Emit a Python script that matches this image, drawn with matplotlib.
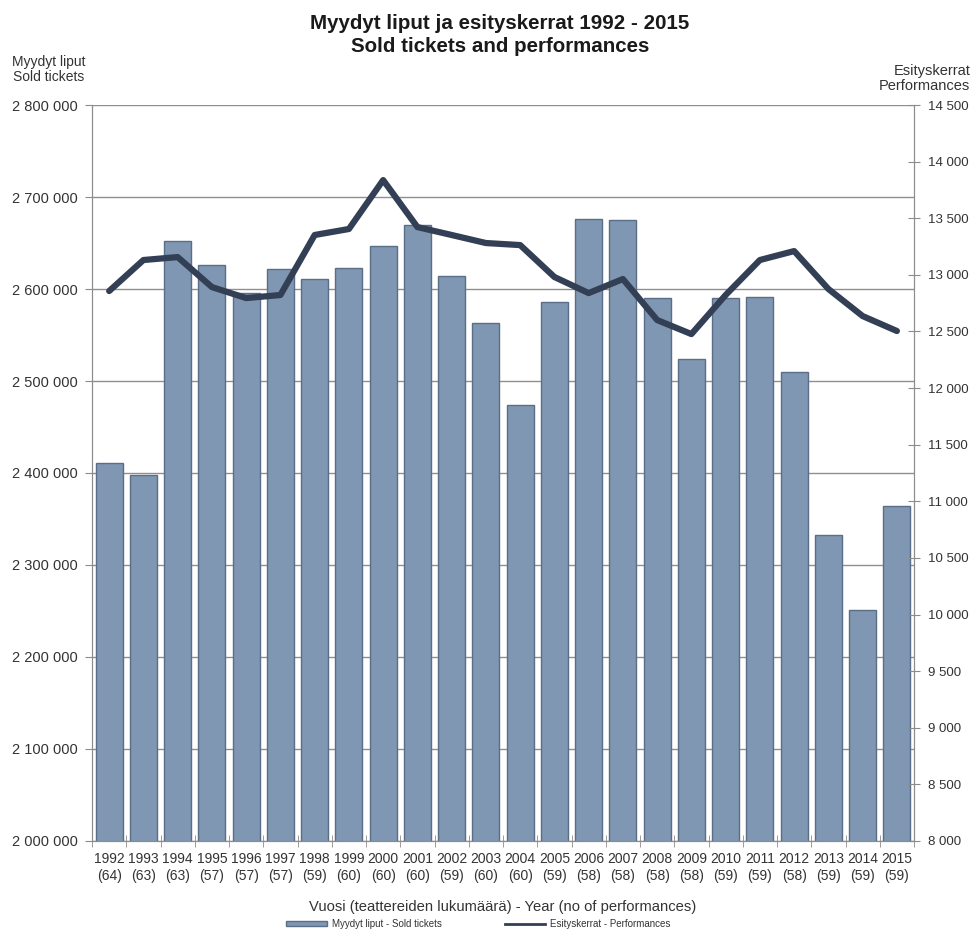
import matplotlib
matplotlib.use("Agg")
import matplotlib.pyplot as plt
from matplotlib.ticker import FuncFormatter, FixedLocator
from matplotlib.lines import Line2D
from matplotlib.patches import Patch
import numpy as np

plt.rcParams['font.family'] = ['Liberation Sans', 'DejaVu Sans']

# data
years = [1992, 1993, 1994, 1995, 1996, 1997, 1998, 1999, 2000, 2001, 2002, 2003,
         2004, 2005, 2006, 2007, 2008, 2009, 2010, 2011, 2012, 2013, 2014, 2015]
theatres = [64, 63, 63, 57, 57, 57, 59, 60, 60, 60, 59, 60,
            60, 59, 58, 58, 58, 58, 59, 59, 58, 59, 59, 59]
tickets = [2411000, 2398000, 2652000, 2626000, 2596000, 2622000, 2611000, 2623000,
           2647000, 2670000, 2614000, 2563000, 2474000, 2586000, 2676000, 2675000,
           2590000, 2524000, 2590000, 2591000, 2510000, 2333000, 2251000, 2364000]
performances = [12857, 13131, 13157, 12892, 12795, 12822, 13352, 13405, 13837, 13422,
                13352, 13281, 13263, 12981, 12839, 12963, 12601, 12477, 12822, 13131,
                13210, 12875, 12636, 12504]

bar_color = '#7f97b2'
bar_edge = '#5b6e88'
line_color = '#333f55'
axis_color = '#8c8c8c'
text_color = '#333333'


def space_fmt(v, pos):
    return f"{int(round(v)):,}".replace(",", " ")


fig = plt.figure(figsize=(9.76, 9.31), dpi=100)
ax = fig.add_axes([0.0943, 0.0967, 0.8422, 0.7905])
ax2 = ax.twinx()

x = np.arange(len(years))
ax.bar(x, tickets, width=0.79, color=bar_color, edgecolor=bar_edge, linewidth=1, zorder=2)
ax2.plot(x, performances, color=line_color, linewidth=4.5, solid_joinstyle='round',
         solid_capstyle='round')

ax.set_xlim(-0.5, len(years) - 0.5)
ax.set_ylim(2000000, 2800000)
ax.set_yticks(np.arange(2000000, 2800001, 100000))
ax.yaxis.set_major_formatter(FuncFormatter(space_fmt))
ax.grid(axis='y', color='#8f8f8f', linewidth=1, zorder=0)
ax.set_axisbelow(True)

ax2.set_ylim(8000, 14500)
ax2.set_yticks(np.arange(8000, 14501, 500))
ax2.yaxis.set_major_formatter(FuncFormatter(space_fmt))

# year labels at bar centres, tick marks between bars
ax.set_xticks(x)
ax.set_xticklabels([f"{y}\n({t})" for y, t in zip(years, theatres)], linespacing=1.3)
ax.xaxis.set_minor_locator(FixedLocator(np.arange(-0.5, len(years), 1.0)))
ax.tick_params(axis='x', which='major', length=0, labelsize=10, colors=text_color, pad=8)
ax.tick_params(axis='x', which='minor', length=8, direction='inout', color=axis_color)
ax.tick_params(axis='y', length=5, direction='out', color=axis_color,
               labelsize=10.5, labelcolor=text_color, pad=5)
ax2.tick_params(axis='y', length=8, direction='inout', color=axis_color,
                labelsize=9.5, labelcolor=text_color, pad=6)

for a in (ax, ax2):
    a.spines['top'].set_visible(False)
    for s in ('left', 'right', 'bottom'):
        a.spines[s].set_color(axis_color)

ax.set_xlabel('Vuosi (teattereiden lukumäärä) - Year (no of performances)',
              fontsize=10.6, color=text_color, labelpad=12)

fig.text(0.512, 0.9624, 'Myydyt liput ja esityskerrat 1992 - 2015\nSold tickets and performances',
         ha='center', va='center', fontsize=14.8, fontweight='bold', color='#1a1a1a',
         linespacing=1.25)
fig.text(0.050, 0.925, 'Myydyt liput\nSold tickets', ha='center', va='center',
         fontsize=10, color=text_color, linespacing=1.1)
fig.text(0.994, 0.916, 'Esityskerrat\nPerformances', ha='right', va='center',
         fontsize=10.5, color=text_color, linespacing=1.1)

handles = [Patch(facecolor=bar_color, edgecolor=bar_edge, linewidth=1),
           Line2D([], [], color=line_color, linewidth=2)]
labels = ['Myydyt liput - Sold tickets', 'Esityskerrat - Performances']
fig.legend(handles, labels, loc='center', bbox_to_anchor=(0.49, 0.0075), ncol=2,
           frameon=False, fontsize=7, columnspacing=6.5, handlelength=4.2,
           handleheight=0.5, handletextpad=0.5, labelcolor=text_color)

fig.savefig('out.png', dpi=100)
